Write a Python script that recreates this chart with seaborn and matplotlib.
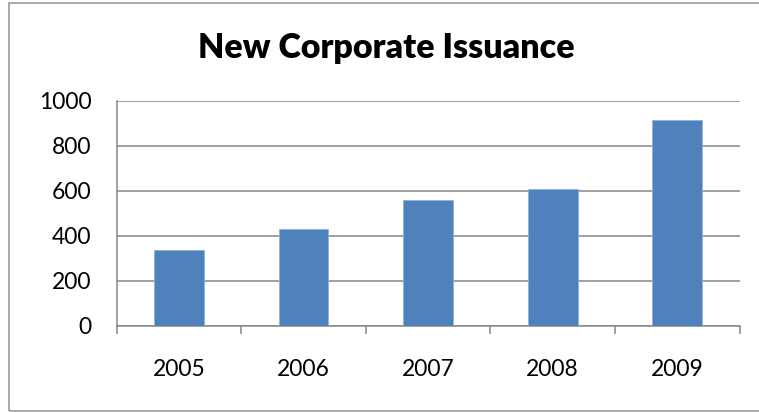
import matplotlib
matplotlib.use("Agg")
import matplotlib.pyplot as plt
import seaborn as sns
import pandas as pd
from matplotlib.patches import Rectangle

years = ["2005", "2006", "2007", "2008", "2009"]
issuance = [335, 428, 560, 606, 915]
y_ticks = [0, 200, 400, 600, 800, 1000]
title = "New Corporate Issuance"

df = pd.DataFrame({"year": years, "value": issuance})

sns.set_style("white")
plt.rcParams["font.family"] = ["Lato", "DejaVu Sans"]

W, H = 759, 412
fig = plt.figure(figsize=(W / 100, H / 100), dpi=100)
ax = fig.add_axes([116.7 / W, 1 - 325.7 / H, (739.5 - 116.7) / W, (325.7 - 100.7) / H])

sns.barplot(data=df, x="year", y="value", color="#4F81BD", saturation=1,
            width=0.4, ax=ax, edgecolor="#8FB0D8", linewidth=0.6, zorder=3)

grid_c = "#868686"
ax.set_xlim(-0.5, 4.5)
ax.set_ylim(0, 1000)
ax.set_yticks(y_ticks)
ax.set_yticklabels([str(t) for t in y_ticks], fontsize=16.5)
ax.yaxis.grid(True, color=grid_c, linewidth=1.1, zorder=0)
ax.set_axisbelow(True)
ax.tick_params(axis="y", length=6, width=1.1, color=grid_c, pad=12, labelcolor="black")

ax.set_xticks(range(len(years)))
ax.set_xticklabels(years, fontsize=16.5)
ax.set_xticks([i - 0.5 for i in range(len(years) + 1)], minor=True)
ax.tick_params(axis="x", which="major", length=0, pad=24, labelcolor="black")
ax.tick_params(axis="x", which="minor", length=5.5, width=1.1, color=grid_c, bottom=True)

for s in ["top", "right"]:
    ax.spines[s].set_visible(False)
for s in ["left", "bottom"]:
    ax.spines[s].set_color(grid_c)
    ax.spines[s].set_linewidth(1.1)
ax.set_xlabel("")
ax.set_ylabel("")

fig.text(386.5 / W, 1 - 57.7 / H, title, ha="center", va="baseline",
         fontsize=24.5, fontweight="heavy", color="black")

fig.patches.append(Rectangle((9 / W, 1 - 410.7 / H), (W + 5 - 9) / W, (410.7 - 2.7) / H,
                             transform=fig.transFigure, fill=False,
                             edgecolor="#9a9a9a", linewidth=1.2))

fig.savefig("out.png", dpi=100)
